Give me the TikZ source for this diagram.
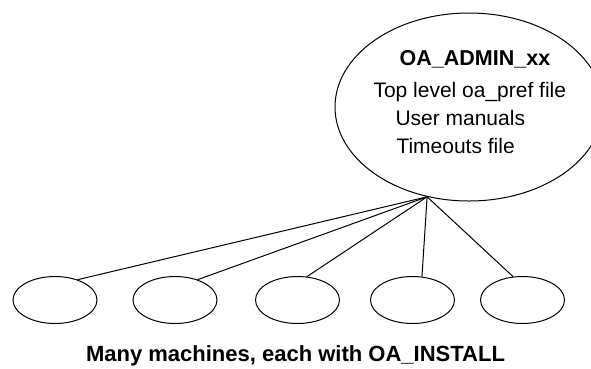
\documentclass[tikz,border=0pt]{standalone}
\usepackage{fontspec}
\setmainfont{Liberation Sans}
\usetikzlibrary{shapes.geometric}

\begin{document}
\begin{tikzpicture}[x=1pt, y=-1pt, line width=1pt,
    machine/.style={draw, ellipse, minimum width=84pt, minimum height=47pt, inner sep=0pt},
    admin/.style={draw, ellipse, minimum width=268pt, minimum height=188pt, inner sep=0pt},
    txt/.style={font=\fontsize{21}{25}\selectfont, inner sep=0pt},
    heading/.style={font=\bfseries\fontsize{21.5}{25}\selectfont, inner sep=0pt}]
    \clip (0,0) rectangle (591,368);

    % admin area
    \node[admin] (admin) at (469,107) {};
    \node[heading, anchor=base] (title) at (475,65) {OA\_ADMIN\_xx};
    \node[txt, anchor=base west] (pref) at (373,97) {Top level oa\_pref file};
    \node[txt, anchor=base west] (manuals) at (395,125) {User manuals};
    \node[txt, anchor=base west] (timeouts) at (396,153) {Timeouts file};
    \coordinate (hub) at (admin.245);

    % machines
    \foreach \x/\a [count=\i] in {55/42, 175/42, 297.5/68, 412.5/68, 522.5/112} {
        \node[machine] (m\i) at (\x,300) {};
        \draw (m\i.\a) -- (hub);
    }
    \node[heading, font=\bfseries\fontsize{22}{26}\selectfont, anchor=base] (install) at (295.5,361) {Many machines, each with OA\_INSTALL};
\end{tikzpicture}
\end{document}
